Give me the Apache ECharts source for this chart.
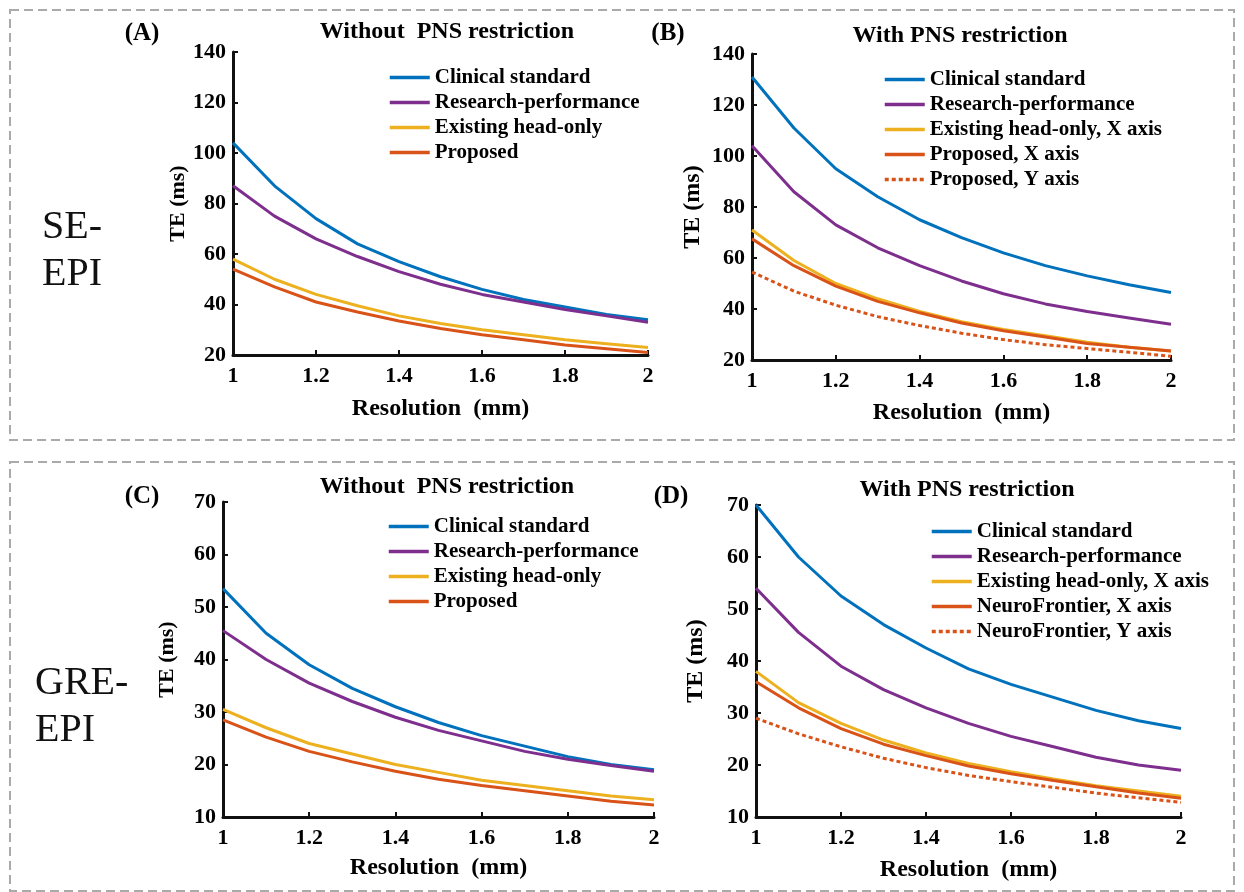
<!DOCTYPE html>
<html>
<head>
<meta charset="utf-8">
<script src="https://cdn.jsdelivr.net/npm/echarts@6/dist/echarts.min.js"></script>
<style>
  html, body { margin: 0; padding: 0; background: #fff; }
  #main { width: 1244px; height: 892px; }
</style>
</head>
<body>
<div id="main"></div>
<script>
// resolution (mm) sample points shared by every curve
const resolution = [1.0, 1.1, 1.2, 1.3, 1.4, 1.5, 1.6, 1.7, 1.8, 1.9, 2.0]

// (A) SE-EPI, without PNS restriction
const seFreeClinical = [104, 87, 74, 64, 57, 51, 46, 42, 39, 36, 34]
const seFreeResearch = [87, 75, 66, 59, 53, 48, 44, 41, 38, 35.5, 33]
const seFreeExisting = [58, 50, 44, 39.5, 35.5, 32.5, 30, 28, 26, 24.5, 23]
const seFreeProposed = [54, 47, 41, 37, 33.5, 30.5, 28, 26, 24, 22.5, 21]

// (B) SE-EPI, with PNS restriction
const sePnsClinical = [131, 111, 95, 84, 75, 68, 62, 57, 53, 49.5, 46.5]
const sePnsResearch = [104, 86, 73, 64, 57, 51, 46, 42, 39, 36.5, 34]
const sePnsExistingX = [71, 59, 50, 44, 39, 35, 32, 29.5, 27, 25, 23.5]
const sePnsProposedX = [67.5, 57, 49, 43, 38.5, 34.5, 31.5, 29, 26.5, 25, 23.5]
const sePnsProposedY = [54.5, 47, 41.5, 37, 33.5, 30.5, 28, 26, 24.5, 23, 21.5]

// (C) GRE-EPI, without PNS restriction
const greFreeClinical = [53.5, 45, 39, 34.5, 31, 28, 25.5, 23.5, 21.5, 20, 19]
const greFreeResearch = [45.5, 40, 35.5, 32, 29, 26.5, 24.5, 22.5, 21, 19.8, 18.7]
const greFreeExisting = [30.5, 27, 24, 22, 20, 18.5, 17, 16, 15, 14, 13.3]
const greFreeProposed = [28.5, 25.2, 22.5, 20.5, 18.7, 17.2, 16, 15, 14, 13, 12.3]

// (D) GRE-EPI, with PNS restriction
const grePnsClinical = [70, 60, 52.5, 47, 42.5, 38.5, 35.5, 33, 30.5, 28.5, 27]
const grePnsResearch = [54, 45.5, 39, 34.5, 31, 28, 25.5, 23.5, 21.5, 20, 19]
const grePnsExistingX = [38, 32, 28, 24.8, 22.3, 20.3, 18.7, 17.3, 16, 15, 14]
const grePnsNeuroX = [36, 31, 27, 24, 21.8, 19.8, 18.3, 17, 15.8, 14.6, 13.6]
const grePnsNeuroY = [29, 26, 23.5, 21.3, 19.5, 18, 16.8, 15.7, 14.6, 13.7, 12.8]

// y-axis ranges per panel: [min, max, step]
const yRanges = [[20, 140, 20], [20, 140, 20], [10, 70, 10], [10, 70, 10]]

const BLUE = '#0072BD'
const PURPLE = '#7E2F8E'
const YELLOW = '#EDB120'
const ORANGE = '#D95319'
const SERIF = 'Liberation Serif'

const pairs = values => resolution.map((r, i) => [r, values[i]])

const line = (name, values, color, idx, dotted) => ({
    name,
    type: 'line',
    xAxisIndex: idx,
    yAxisIndex: idx,
    data: pairs(values),
    symbol: 'none',
    silent: true,
    color,
    lineStyle: {
        color,
        width: 3,
        type: dotted ? [4, 3] : 'solid',
        cap: 'butt'
    }
})

const grids = [
    { left: 233, top: 52, width: 415, height: 303 },
    { left: 752, top: 54, width: 419, height: 306 },
    { left: 223, top: 502, width: 431, height: 315 },
    { left: 756, top: 505, width: 425, height: 312 }
]
// distances of the axis names from the axes, per panel
const xNameGap = [42, 41, 39, 41]
const yNameGap = [44, 47, 45, 48]

const labelStyle = size => ({
    color: '#000',
    fontFamily: SERIF,
    fontWeight: 'bold',
    fontSize: size
})

const xAxis = grids.map((g, i) => ({
    type: 'value',
    gridIndex: i,
    min: 1,
    max: 2,
    interval: 0.2,
    name: 'Resolution  (mm)',
    nameLocation: 'middle',
    nameGap: xNameGap[i],
    nameTextStyle: labelStyle(24),
    axisLine: { lineStyle: { color: '#111', width: 3 } },
    axisTick: { inside: true, length: 5, lineStyle: { color: '#111', width: 2 } },
    axisLabel: Object.assign({ margin: 10 }, labelStyle(22)),
    splitLine: { show: false }
}))

const yAxis = grids.map((g, i) => ({
    type: 'value',
    gridIndex: i,
    min: yRanges[i][0],
    max: yRanges[i][1],
    interval: yRanges[i][2],
    name: 'TE (ms)',
    nameLocation: 'middle',
    nameRotate: 90,
    nameGap: yNameGap[i],
    nameTextStyle: labelStyle(i % 2 ? 24 : 22),
    axisLine: { show: true, lineStyle: { color: '#111', width: 3 } },
    axisTick: { show: true, inside: true, length: 5, lineStyle: { color: '#111', width: 2 } },
    axisLabel: Object.assign({ margin: 7 }, labelStyle(22)),
    splitLine: { show: false }
}))

const series = [
    line('Clinical standard', seFreeClinical, BLUE, 0),
    line('Research-performance', seFreeResearch, PURPLE, 0),
    line('Existing head-only', seFreeExisting, YELLOW, 0),
    line('Proposed', seFreeProposed, ORANGE, 0),

    line('Clinical standard', sePnsClinical, BLUE, 1),
    line('Research-performance', sePnsResearch, PURPLE, 1),
    line('Existing head-only, X axis', sePnsExistingX, YELLOW, 1),
    line('Proposed, X axis', sePnsProposedX, ORANGE, 1),
    line('Proposed, Y axis', sePnsProposedY, ORANGE, 1, true),

    line('Clinical standard', greFreeClinical, BLUE, 2),
    line('Research-performance', greFreeResearch, PURPLE, 2),
    line('Existing head-only', greFreeExisting, YELLOW, 2),
    line('Proposed', greFreeProposed, ORANGE, 2),

    line('Clinical standard', grePnsClinical, BLUE, 3),
    line('Research-performance', grePnsResearch, PURPLE, 3),
    line('Existing head-only, X axis', grePnsExistingX, YELLOW, 3),
    line('NeuroFrontier, X axis', grePnsNeuroX, ORANGE, 3),
    line('NeuroFrontier, Y axis', grePnsNeuroY, ORANGE, 3, true)
]

const legend = (names, left, top) => ({
    data: names,
    left,
    top,
    orient: 'vertical',
    itemWidth: 40,
    itemHeight: 14,
    itemGap: 4,
    selectedMode: false,
    padding: 0,
    itemStyle: { opacity: 0 },
    lineStyle: { width: 3.5 },
    textStyle: Object.assign({ lineHeight: 21 }, labelStyle(21))
})

const titles = [
    ['Without  PNS restriction', 447, 20],
    ['With PNS restriction', 960, 24],
    ['Without  PNS restriction', 447, 475],
    ['With PNS restriction', 967, 478]
].map(([text, x, y]) => ({
    text, left: x, top: y, textAlign: 'center', padding: 0,
    textStyle: labelStyle(24)
}))

const letters = [['(A)', 142, 21], ['(B)', 668, 21], ['(C)', 142, 484], ['(D)', 671, 484]].map(([text, x, y]) => ({
    text, left: x, top: y, textAlign: 'center', padding: 0,
    textStyle: labelStyle(25)
}))

const chart = echarts.init(document.getElementById('main'), null, { renderer: 'canvas' })
chart.setOption({
    backgroundColor: '#fff',
    animation: false,
    title: titles.concat(letters),
    grid: grids,
    xAxis,
    yAxis,
    legend: [
        legend(['Clinical standard', 'Research-performance', 'Existing head-only', 'Proposed'], 388, 67),
        legend(['Clinical standard', 'Research-performance', 'Existing head-only, X axis', 'Proposed, X axis', 'Proposed, Y axis'], 883, 69),
        legend(['Clinical standard', 'Research-performance', 'Existing head-only', 'Proposed'], 387, 516),
        legend(['Clinical standard', 'Research-performance', 'Existing head-only, X axis', 'NeuroFrontier, X axis', 'NeuroFrontier, Y axis'], 930, 521)
    ],
    series,
    graphic: [
        { type: 'rect', shape: { x: 10, y: 10, width: 1224, height: 430 }, style: { fill: null, stroke: '#aaa', lineWidth: 2, lineDash: [9, 5] } },
        { type: 'rect', shape: { x: 10, y: 462, width: 1224, height: 429 }, style: { fill: null, stroke: '#aaa', lineWidth: 2, lineDash: [9, 5] } },
        { type: 'text', left: 42, top: 204, style: { text: 'SE-\nEPI', font: '40px "Liberation Serif"', lineHeight: 47, fill: '#111' } },
        { type: 'text', left: 35, top: 660, style: { text: 'GRE-\nEPI', font: '40px "Liberation Serif"', lineHeight: 47, fill: '#111' } }
    ]
})
</script>
</body>
</html>
